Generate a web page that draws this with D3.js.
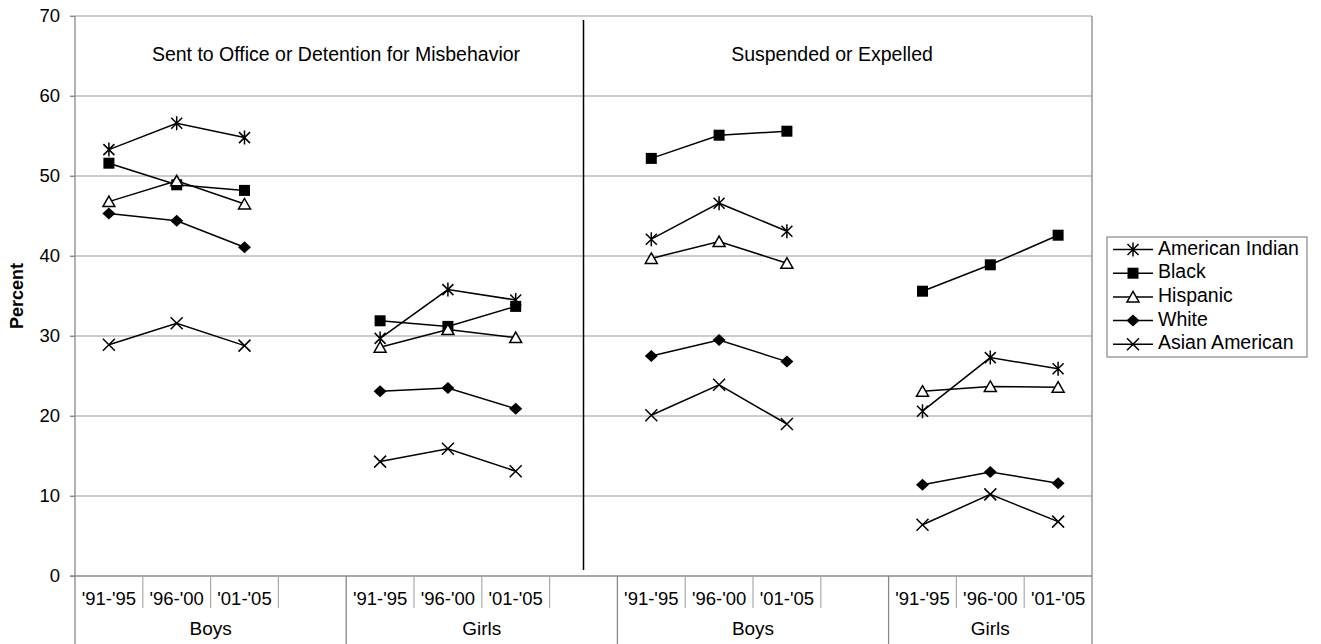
<!DOCTYPE html>
<html>
<head>
<meta charset="utf-8">
<script src="https://cdn.jsdelivr.net/npm/d3@7"></script>
<style>
  body { margin: 0; background: #fff; }
  text { font-family: "Liberation Sans", Arial, sans-serif; fill: #000; }
</style>
</head>
<body>
<div id="chart"></div>
<script>
// categories
const periods = ["'91-'95", "'96-'00", "'01-'05"];
const groups = ["Boys", "Girls", "Boys", "Girls"];
const panels = ["Sent to Office or Detention for Misbehavior", "Suspended or Expelled"];
const yTicks = [0, 10, 20, 30, 40, 50, 60, 70];

// values: Boys, Girls (sent to office), Boys, Girls (suspended), 3 periods each
const americanIndian = [53.3, 56.6, 54.8, 29.7, 35.8, 34.5, 42.1, 46.6, 43.1, 20.6, 27.3, 25.9];
const black          = [51.6, 48.9, 48.2, 31.9, 31.2, 33.7, 52.2, 55.1, 55.6, 35.6, 38.9, 42.6];
const hispanic       = [46.8, 49.4, 46.5, 28.6, 30.8, 29.8, 39.7, 41.8, 39.1, 23.1, 23.7, 23.6];
const white          = [45.3, 44.4, 41.1, 23.1, 23.5, 20.9, 27.5, 29.5, 26.8, 11.4, 13.0, 11.6];
const asianAmerican  = [28.9, 31.6, 28.8, 14.3, 15.9, 13.1, 20.1, 23.9, 19.0,  6.4, 10.2,  6.8];

const series = [
  { name: "American Indian", values: americanIndian, marker: "asterisk" },
  { name: "Black", values: black, marker: "square" },
  { name: "Hispanic", values: hispanic, marker: "triangle" },
  { name: "White", values: white, marker: "diamond" },
  { name: "Asian American", values: asianAmerican, marker: "cross" }
];

const W = 1321, H = 644;
const m = { left: 75, right: 1092, top: 16, bottom: 576 };

// 4 slots per group, last group has no trailing blank slot
const slotOf = (g, p) => g * 4 + p;
const x = d3.scaleBand().domain(d3.range(15)).range([m.left, m.right]);
const cx = i => x(i) + x.bandwidth() / 2;
const y = d3.scaleLinear().domain([0, 70]).range([m.bottom, m.top]);

const svg = d3.select("#chart").append("svg")
  .attr("width", W).attr("height", H);

// gridlines
svg.append("g").selectAll("line").data(yTicks.slice(1)).join("line")
  .attr("x1", m.left - 5).attr("x2", m.right)
  .attr("y1", d => y(d)).attr("y2", d => y(d))
  .attr("stroke", "#9a9a9a").attr("stroke-width", 1.2);

// y axis
const yAxis = svg.append("g").attr("transform", `translate(${m.left},0)`)
  .call(d3.axisLeft(y).tickValues(yTicks).tickSize(5).tickPadding(10));
yAxis.select(".domain").remove();
yAxis.selectAll(".tick line").attr("stroke", "#888");
yAxis.selectAll(".tick text").attr("font-size", 18.5)
  .style("font-family", '"Liberation Sans", Arial, sans-serif');

svg.append("text")
  .attr("transform", `translate(23,${(m.top + m.bottom) / 2}) rotate(-90)`)
  .attr("text-anchor", "middle")
  .attr("font-size", 18).attr("font-weight", "bold")
  .text("Percent");

// frame lines
const frame = svg.append("g").attr("stroke", "#888").attr("stroke-width", 1.3);
frame.append("line").attr("x1", m.left).attr("x2", m.left).attr("y1", m.top).attr("y2", H);
frame.append("line").attr("x1", m.right).attr("x2", m.right).attr("y1", m.top).attr("y2", H);
frame.append("line").attr("x1", m.left - 5).attr("x2", m.right).attr("y1", m.bottom).attr("y2", m.bottom);

// x axis: separators and labels
const cats = [];
groups.forEach((g, gi) => periods.forEach((p, pi) => cats.push({ g: gi, p: pi, label: p })));

const shortSeps = [];
groups.forEach((g, gi) => {
  const n = gi < 3 ? 3 : 2;
  for (let p = 1; p <= n; p++) shortSeps.push(slotOf(gi, p));
});
svg.append("g").selectAll("line").data(shortSeps).join("line")
  .attr("x1", d => x(d)).attr("x2", d => x(d))
  .attr("y1", m.bottom).attr("y2", 608)
  .attr("stroke", "#aaa").attr("stroke-width", 1.2);

svg.append("g").selectAll("line").data([1, 2, 3]).join("line")
  .attr("x1", d => x(slotOf(d, 0))).attr("x2", d => x(slotOf(d, 0)))
  .attr("y1", m.bottom).attr("y2", H)
  .attr("stroke", "#888").attr("stroke-width", 1.3);

svg.append("g").selectAll("text").data(cats).join("text")
  .attr("x", d => cx(slotOf(d.g, d.p)))
  .attr("y", 600)
  .attr("text-anchor", "middle").attr("dominant-baseline", "middle")
  .attr("font-size", 18.5)
  .text(d => d.label);

svg.append("g").selectAll("text").data(groups).join("text")
  .attr("x", (d, i) => {
    const a = x(slotOf(i, 0));
    const b = i < 3 ? x(slotOf(i + 1, 0)) : m.right;
    return (a + b) / 2;
  })
  .attr("y", 630)
  .attr("text-anchor", "middle").attr("dominant-baseline", "middle")
  .attr("font-size", 19)
  .text(d => d);

// panel divider and titles
svg.append("line")
  .attr("x1", cx(7)).attr("x2", cx(7))
  .attr("y1", 20).attr("y2", 570)
  .attr("stroke", "#000").attr("stroke-width", 1.5);

svg.append("g").selectAll("text").data(panels).join("text")
  .attr("x", (d, i) => i === 0 ? 336 : 832)
  .attr("y", 56)
  .attr("text-anchor", "middle").attr("dominant-baseline", "middle")
  .attr("font-size", 19.5)
  .text(d => d);

// markers
function drawMarker(g, type) {
  if (type === "asterisk") {
    g.append("path").attr("d", "M-5.5,-5.5L5.5,5.5M-5.5,5.5L5.5,-5.5M0,-7L0,7")
      .attr("stroke", "#000").attr("stroke-width", 1.5).attr("fill", "none");
  } else if (type === "square") {
    g.append("rect").attr("x", -5.5).attr("y", -5.5).attr("width", 11).attr("height", 11)
      .attr("fill", "#000");
  } else if (type === "triangle") {
    g.append("path").attr("d", "M0,-5.5L6,5L-6,5Z")
      .attr("fill", "#fff").attr("stroke", "#000").attr("stroke-width", 1.5);
  } else if (type === "diamond") {
    g.append("path").attr("d", "M0,-6L6.5,0L0,6L-6.5,0Z").attr("fill", "#000");
  } else if (type === "cross") {
    g.append("path").attr("d", "M-6,-6L6,6M-6,6L6,-6")
      .attr("stroke", "#000").attr("stroke-width", 1.5).attr("fill", "none");
  }
}

const line = d3.line().x(d => cx(d.slot)).y(d => y(d.v));

series.forEach(s => {
  const sg = svg.append("g");
  groups.forEach((g, gi) => {
    const pts = periods.map((p, pi) => ({ slot: slotOf(gi, pi), v: s.values[gi * 3 + pi] }));
    sg.append("path").datum(pts).attr("d", line)
      .attr("fill", "none").attr("stroke", "#000").attr("stroke-width", 1.5);
    pts.forEach(pt => {
      const mk = sg.append("g").attr("transform", `translate(${cx(pt.slot)},${y(pt.v)})`);
      drawMarker(mk, s.marker);
    });
  });
});

// legend
const lg = svg.append("g").attr("transform", "translate(1107,237)");
lg.append("rect").attr("width", 200).attr("height", 120)
  .attr("fill", "#fff").attr("stroke", "#888").attr("stroke-width", 1.2);
series.forEach((s, i) => {
  const row = lg.append("g").attr("transform", `translate(0,${12.5 + i * 23.7})`);
  row.append("line").attr("x1", 6).attr("x2", 46).attr("stroke", "#000").attr("stroke-width", 1.5);
  drawMarker(row.append("g").attr("transform", "translate(26,0)"), s.marker);
  row.append("text").attr("x", 51).attr("dominant-baseline", "middle")
    .attr("font-size", 19.5).text(s.name);
});
</script>
</body>
</html>
